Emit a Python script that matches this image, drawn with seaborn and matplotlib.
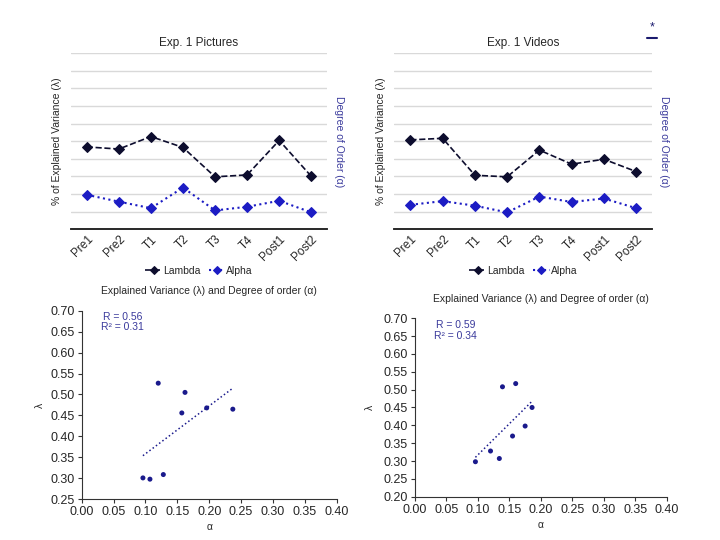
import matplotlib
matplotlib.use("Agg")
import numpy as np
import pandas as pd
import matplotlib.pyplot as plt
import seaborn as sns
from matplotlib.lines import Line2D

# Session labels shared by both experiments
sessions = ['Pre1', 'Pre2', 'T1', 'T2', 'T3', 'T4', 'Post1', 'Post2']

# Exp. 1 Pictures
pictures_lambda = [0.468, 0.456, 0.527, 0.465, 0.298, 0.309, 0.505, 0.301]
pictures_alpha = [0.196, 0.157, 0.120, 0.237, 0.107, 0.128, 0.162, 0.096]

# Exp. 1 Videos
videos_lambda = [0.508, 0.517, 0.307, 0.298, 0.450, 0.370, 0.398, 0.328]
videos_alpha = [0.139, 0.160, 0.134, 0.096, 0.186, 0.155, 0.175, 0.120]

# Correlation annotations
pictures_r = ('R = 0.56', 'R² = 0.31')
videos_r = ('R = 0.59', 'R² = 0.34')

LAM_COLOR = '#0d0d2e'
ALPHA_COLOR = '#1c1cc4'
LABEL_BLUE = '#3a3a9c'
DOT_COLOR = '#1a1a8c'

sns.set_theme(style='white')
plt.rcParams['font.family'] = ['Liberation Sans', 'DejaVu Sans']

fig = plt.figure(figsize=(7.2, 5.4), dpi=100)


def plot_sessions(ax, title, lam, alp):
    df = pd.DataFrame({'Session': sessions, 'Lambda': lam, 'Alpha': alp})
    ax.set_ylim(0, 1.0)
    ax.set_yticks(np.arange(0, 1.01, 0.1))
    ax.grid(axis='y', color='#d9d9d9', lw=1)
    ax.set_axisbelow(True)
    sns.lineplot(data=df, x='Session', y='Lambda', ax=ax, color=LAM_COLOR,
                 linestyle='--', marker='D', markersize=5.5, lw=1.2,
                 markeredgecolor=LAM_COLOR, label='Lambda', legend=False)
    ax2 = ax.twinx()
    sns.lineplot(data=df, x='Session', y='Alpha', ax=ax2, color=ALPHA_COLOR,
                 linestyle=':', marker='D', markersize=5.5, lw=1.5,
                 markeredgecolor=ALPHA_COLOR, label='Alpha', legend=False)
    ax2.set_ylim(0, 1.0)
    ax.set_xlim(-0.5, len(sessions) - 0.5)
    for a in (ax, ax2):
        for s in ('top', 'left', 'right'):
            a.spines[s].set_visible(False)
        a.tick_params(axis='y', left=False, right=False,
                      labelleft=False, labelright=False)
    ax.spines['bottom'].set_color('#404040')
    ax.spines['bottom'].set_linewidth(1.2)
    ax.tick_params(axis='x', length=0, pad=3, labelsize=8.5)
    plt.setp(ax.get_xticklabels(), rotation=45, ha='right',
             rotation_mode='anchor')
    ax.set_xlabel('')
    ax.set_ylabel('% of Explained Variance (λ)', fontsize=7.5, labelpad=6)
    ax2.set_ylabel('Degree of Order (α)', fontsize=7.5, color=LABEL_BLUE,
                   rotation=-90, labelpad=12)
    ax.set_title(title, fontsize=8.5, pad=5)
    h1, l1 = ax.get_legend_handles_labels()
    h2, l2 = ax2.get_legend_handles_labels()
    ax.legend(h1 + h2, l1 + l2, loc='center', bbox_to_anchor=(0.5, -0.235),
              ncol=2, frameon=False, fontsize=7.5, handlelength=1.6,
              handletextpad=0.1, columnspacing=0.8, markerscale=0.8)


def plot_corr(ax, lam, alp, ymin, rtext, ylabel_pad, text_y):
    df = pd.DataFrame({'alpha': alp, 'lambda': lam})
    sns.regplot(data=df, x='alpha', y='lambda', ax=ax, ci=None, scatter=False,
                truncate=True, line_kws=dict(color=DOT_COLOR, ls=':', lw=1.1))
    sns.scatterplot(data=df, x='alpha', y='lambda', ax=ax, color=DOT_COLOR,
                    s=13, edgecolor='none')
    ax.set_xlim(0, 0.40)
    ax.set_ylim(ymin, 0.70)
    ax.set_xticks(np.arange(0, 0.401, 0.05))
    ax.set_yticks(np.arange(ymin, 0.701, 0.05))
    ax.xaxis.set_major_formatter('{x:.2f}')
    ax.yaxis.set_major_formatter('{x:.2f}')
    for s in ('top', 'right'):
        ax.spines[s].set_visible(False)
    for s in ('left', 'bottom'):
        ax.spines[s].set_color('#333333')
        ax.spines[s].set_linewidth(0.8)
    ax.tick_params(axis='both', which='major', direction='out', length=3,
                   width=0.8, color='#333333', labelsize=9, pad=2,
                   bottom=True, left=True)
    ax.set_xlabel('α', fontsize=7.5, labelpad=3)
    ax.set_ylabel('λ', fontsize=7.5, labelpad=ylabel_pad)
    ax.set_title('Explained Variance (λ) and Degree of order (α)',
                 fontsize=7.5, pad=12)
    ax.text(0.16, text_y, rtext[0] + '\n' + rtext[1], transform=ax.transAxes,
            color=LABEL_BLUE, fontsize=7.5, va='top', ha='center',
            multialignment='center', linespacing=1.1)


ax_tl = fig.add_axes([0.0982, 0.5754, 0.3564, 0.3259])
ax_tr = fig.add_axes([0.5476, 0.5754, 0.3583, 0.3259])
ax_bl = fig.add_axes([0.1135, 0.0754, 0.3542, 0.3493])
ax_br = fig.add_axes([0.5764, 0.0802, 0.3496, 0.3304])

plot_sessions(ax_tl, 'Exp. 1 Pictures', pictures_lambda, pictures_alpha)
plot_sessions(ax_tr, 'Exp. 1 Videos', videos_lambda, videos_alpha)
plot_corr(ax_bl, pictures_lambda, pictures_alpha, 0.25, pictures_r, 4, 0.995)
plot_corr(ax_br, videos_lambda, videos_alpha, 0.20, videos_r, 6, 0.99)

# small slide marker in the top-right corner
fig.text(652 / 720, 1 - 27 / 540, '*', color='#1a1a6e', fontsize=9,
         ha='center', va='center')
fig.add_artist(Line2D([647 / 720, 657 / 720], [1 - 38 / 540] * 2,
                      color='#1a1a6e', lw=1.5))

fig.savefig('out.png', dpi=100)
